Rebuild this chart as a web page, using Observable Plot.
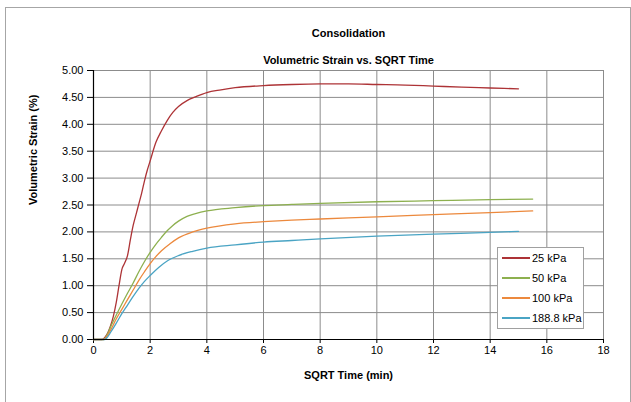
<!DOCTYPE html>
<html>
<head>
<meta charset="utf-8">
<script src="https://cdn.jsdelivr.net/npm/d3@7"></script>
<script src="https://cdn.jsdelivr.net/npm/@observablehq/plot@0.6"></script>
<style>
  html, body { margin: 0; padding: 0; background: #fff; }
  #wrap { position: relative; width: 631px; height: 402px; overflow: hidden; }
  #border { position: absolute; left: 5px; top: 7px; width: 624px; height: 400px; border: 1px solid #a6a6a6; pointer-events: none; }
  #legend { position: absolute; left: 497px; top: 247px; width: 85px; height: 80px; border: 1px solid #a0a0a0; background: #fff;
            font-family: "Liberation Sans", Arial, sans-serif; font-size: 11px; color: #000; }
  .item { position: absolute; left: 4px; height: 14px; display: flex; align-items: center; }
  .item span.sw { display: inline-block; width: 28px; height: 0; border-top: 2px solid; margin-right: 2px; }
</style>
</head>
<body>
<div id="wrap">
  <div id="chart"></div>
  <div id="border"></div>
  <div id="legend"></div>
</div>
<script>
const seriesNames = ["25 kPa", "50 kPa", "100 kPa", "188.8 kPa"];
const seriesColors = ["#ad3336", "#8db04f", "#ec893d", "#4aa4c4"];

const x25 = [0, 0.3, 0.4, 0.5, 0.6, 0.7, 0.8, 0.9, 1.0, 1.1, 1.2, 1.3, 1.4, 1.5, 1.6, 1.7, 1.8, 1.9, 2.0, 2.2, 2.4, 2.6, 2.8, 3.0, 3.3, 3.6, 4.0, 4.5, 5, 6, 7, 8, 9, 10, 11, 12, 13, 14, 15];
const y25 = [0, 0, 0.04, 0.12, 0.25, 0.43, 0.68, 1.0, 1.3, 1.42, 1.56, 1.85, 2.12, 2.32, 2.52, 2.72, 2.95, 3.15, 3.32, 3.66, 3.88, 4.07, 4.22, 4.33, 4.44, 4.51, 4.59, 4.64, 4.68, 4.72, 4.74, 4.75, 4.75, 4.74, 4.73, 4.71, 4.69, 4.675, 4.66];

const x50 = [0, 0.35, 0.5, 0.6, 0.8, 1.0, 1.2, 1.4, 1.6, 1.8, 2.0, 2.2, 2.4, 2.6, 2.8, 3.0, 3.3, 3.6, 4.0, 5, 6, 7, 8, 10, 12, 14, 15.5];
const y50 = [0, 0, 0.11, 0.23, 0.45, 0.66, 0.86, 1.05, 1.26, 1.45, 1.62, 1.77, 1.90, 2.02, 2.12, 2.20, 2.29, 2.34, 2.39, 2.45, 2.49, 2.51, 2.53, 2.56, 2.58, 2.60, 2.61];

const x100 = [0, 0.35, 0.5, 0.6, 0.8, 1.0, 1.2, 1.4, 1.6, 1.8, 2.0, 2.2, 2.4, 2.7, 3.0, 3.5, 4.0, 5, 6, 7, 8, 10, 12, 14, 15.5];
const y100 = [0, 0, 0.08, 0.17, 0.38, 0.56, 0.74, 0.92, 1.10, 1.26, 1.41, 1.54, 1.65, 1.78, 1.89, 2.00, 2.07, 2.15, 2.19, 2.22, 2.24, 2.28, 2.32, 2.36, 2.39];

const x188 = [0, 0.4, 0.5, 0.6, 0.8, 1.0, 1.2, 1.4, 1.6, 1.8, 2.0, 2.3, 2.6, 3.0, 3.5, 4.0, 5, 6, 7, 8, 10, 12, 14, 15];
const y188 = [0, 0, 0.05, 0.13, 0.30, 0.48, 0.64, 0.80, 0.95, 1.08, 1.19, 1.34, 1.46, 1.56, 1.64, 1.70, 1.76, 1.81, 1.84, 1.87, 1.92, 1.96, 1.99, 2.01];

const xTicks = [0, 2, 4, 6, 8, 10, 12, 14, 16, 18];
const yTicks = [0, 0.5, 1, 1.5, 2, 2.5, 3, 3.5, 4, 4.5, 5];

const title = "Consolidation";
const subtitle = "Volumetric Strain vs. SQRT Time";
const xLabel = "SQRT Time (min)";
const yLabel = "Volumetric Strain (%)";

const xs = [x25, x50, x100, x188];
const ys = [y25, y50, y100, y188];
const data = [];
seriesNames.forEach((s, i) => xs[i].forEach((x, j) => data.push({series: s, x, y: ys[i][j]})));

const font = '"Liberation Sans", Arial, sans-serif';

const chart = Plot.plot({
  width: 631,
  height: 402,
  marginLeft: 93,
  marginRight: 28,
  marginTop: 70,
  marginBottom: 63,
  style: {fontFamily: font, fontSize: "11px", background: "#fff", color: "#000"},
  x: {domain: [0, 18], ticks: xTicks},
  y: {domain: [0, 5], ticks: yTicks},
  color: {domain: seriesNames, range: seriesColors},
  marks: [
    Plot.gridX(xTicks, {stroke: "#8c8c8c", strokeOpacity: 1}),
    Plot.gridY(yTicks, {stroke: "#8c8c8c", strokeOpacity: 1}),
    Plot.axisX(xTicks, {tickSize: 4, tickPadding: 3, label: null, tickFormat: d3.format("d"), fontSize: 11}),
    Plot.axisY(yTicks, {tickSize: 6, tickPadding: 4, label: null, tickFormat: d3.format(".2f"), fontSize: 11}),
    Plot.line(data, {x: "x", y: "y", z: "series", stroke: "series", strokeWidth: 1.3, curve: "monotone-x"}),
    Plot.ruleX([0], {stroke: "#000", strokeWidth: 1.2}),
    Plot.ruleY([0], {stroke: "#000", strokeWidth: 1.2}),
    Plot.text([title], {frameAnchor: "top", dy: -41, fontWeight: "bold", fontSize: 11}),
    Plot.text([subtitle], {frameAnchor: "top", dy: -14, fontWeight: "bold", fontSize: 11}),
    Plot.text([xLabel], {frameAnchor: "bottom", dy: 39, fontWeight: "bold", fontSize: 11}),
    Plot.text([yLabel], {frameAnchor: "left", dx: -60, rotate: -90, fontWeight: "bold", fontSize: 11})
  ]
});
document.getElementById("chart").appendChild(chart);

const legend = document.getElementById("legend");
seriesNames.forEach((s, i) => {
  const d = document.createElement("div");
  d.className = "item";
  d.style.top = (3 + i * 20) + "px";
  const sw = document.createElement("span");
  sw.className = "sw";
  sw.style.borderTopColor = seriesColors[i];
  d.appendChild(sw);
  d.appendChild(document.createTextNode(s));
  legend.appendChild(d);
});
</script>
</body>
</html>
